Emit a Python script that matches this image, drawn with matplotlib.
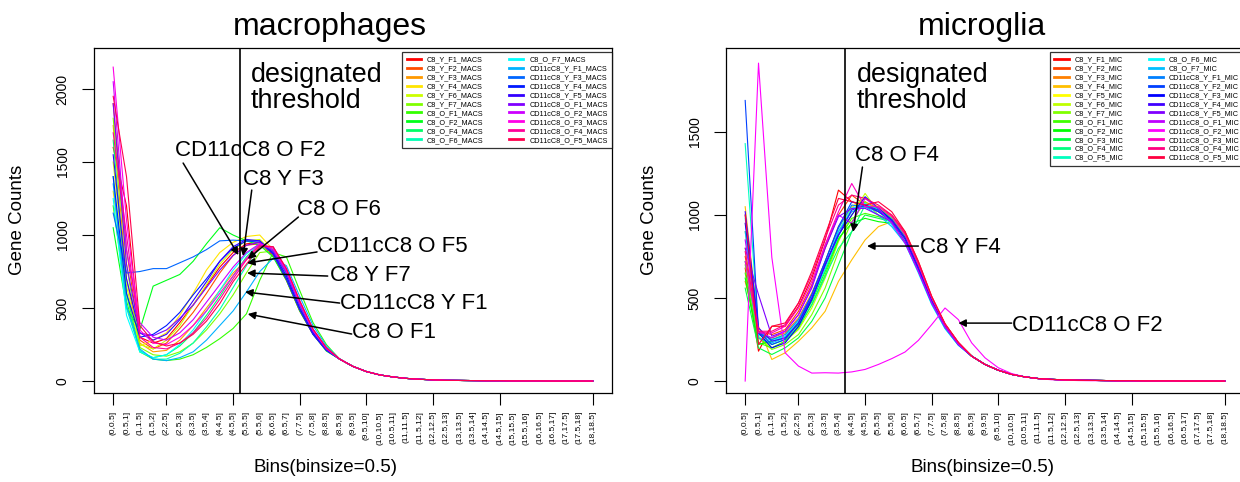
import colorsys
import matplotlib
matplotlib.use("Agg")
import matplotlib.pyplot as plt

plt.rcParams['font.family'] = ['Liberation Sans', 'DejaVu Sans']

# bins on the x axis
bins = ["(0,0.5]", "(0.5,1]", "(1,1.5]", "(1.5,2]", "(2,2.5]", "(2.5,3]", "(3,3.5]",
        "(3.5,4]", "(4,4.5]", "(4.5,5]", "(5,5.5]", "(5.5,6]", "(6,6.5]", "(6.5,7]",
        "(7,7.5]", "(7.5,8]", "(8,8.5]", "(8.5,9]", "(9,9.5]", "(9.5,10]", "(10,10.5]",
        "(10.5,11]", "(11,11.5]", "(11.5,12]", "(12,12.5]", "(12.5,13]", "(13,13.5]",
        "(13.5,14]", "(14,14.5]", "(14.5,15]", "(15,15.5]", "(15.5,16]", "(16,16.5]",
        "(16.5,17]", "(17,17.5]", "(17.5,18]", "(18,18.5]"]
tick_bins = [0, 4, 9, 14, 19, 24, 29, 36]

# ---- macrophages: first 17 bins per sample, shared tail for the rest
mac_c8_y_f1 = [1600, 1200, 300, 260, 290, 400, 520, 650, 780, 880, 940, 950, 860, 690, 480, 320, 210]
mac_c8_y_f2 = [1900, 900, 280, 220, 260, 360, 470, 600, 740, 860, 930, 940, 860, 700, 490, 330, 215]
mac_c8_y_f3 = [1750, 700, 260, 200, 210, 280, 380, 500, 620, 740, 830, 930, 900, 740, 520, 340, 220]
mac_c8_y_f4 = [1300, 600, 240, 280, 330, 450, 600, 760, 880, 950, 990, 1000, 900, 720, 500, 330, 210]
mac_c8_y_f6 = [1500, 650, 250, 220, 280, 380, 520, 660, 800, 900, 960, 970, 880, 710, 500, 330, 215]
mac_c8_y_f7 = [1800, 800, 230, 180, 170, 200, 260, 350, 460, 590, 740, 880, 890, 760, 540, 350, 225]
mac_c8_o_f1 = [1200, 550, 200, 150, 140, 150, 180, 230, 290, 360, 460, 690, 880, 850, 620, 400, 250]
mac_c8_o_f2 = [1050, 500, 350, 650, 690, 730, 820, 940, 1050, 1000, 960, 930, 850, 690, 480, 320, 205]
mac_c8_o_f4 = [1650, 600, 200, 160, 180, 240, 330, 450, 580, 720, 850, 940, 900, 740, 520, 340, 220]
mac_c8_o_f6 = [1400, 500, 210, 150, 150, 190, 260, 370, 490, 640, 790, 920, 920, 760, 540, 350, 225]
mac_c8_o_f7 = [1250, 450, 200, 160, 180, 250, 350, 480, 620, 760, 870, 940, 880, 720, 500, 330, 215]
mac_cd_y_f1 = [1350, 520, 220, 150, 140, 160, 200, 280, 380, 480, 610, 750, 840, 790, 580, 380, 240]
mac_cd_y_f3 = [1150, 740, 750, 770, 770, 810, 850, 900, 960, 965, 960, 950, 870, 700, 490, 320, 210]
mac_cd_y_f4 = [1400, 600, 300, 320, 380, 470, 590, 700, 820, 910, 960, 960, 880, 720, 500, 330, 215]
mac_cd_y_f5 = [1550, 700, 330, 280, 320, 420, 550, 680, 820, 920, 970, 960, 870, 700, 490, 320, 210]
mac_cd_o_f1 = [1900, 800, 330, 310, 350, 430, 520, 640, 760, 860, 930, 950, 890, 740, 520, 340, 220]
mac_cd_o_f2 = [2050, 900, 400, 300, 280, 330, 420, 540, 660, 780, 880, 940, 900, 750, 530, 345, 222]
mac_cd_o_f3 = [2150, 1100, 350, 260, 250, 300, 380, 480, 600, 720, 840, 940, 910, 760, 540, 350, 225]
mac_cd_o_f4 = [1700, 1000, 300, 230, 220, 260, 330, 430, 560, 700, 830, 930, 920, 770, 550, 355, 228]
mac_cd_o_f5 = [1950, 1400, 380, 270, 240, 260, 320, 410, 530, 680, 800, 920, 920, 770, 550, 355, 228]
mac_tail = [150, 100, 65, 42, 28, 18, 12, 8, 5, 4, 3, 2, 2, 1, 1, 1, 0, 0, 0, 0]

mac_labels = ["C8_Y_F1_MACS", "C8_Y_F2_MACS", "C8_Y_F3_MACS", "C8_Y_F4_MACS", "C8_Y_F6_MACS",
              "C8_Y_F7_MACS", "C8_O_F1_MACS", "C8_O_F2_MACS", "C8_O_F4_MACS", "C8_O_F6_MACS",
              "C8_O_F7_MACS", "CD11cC8_Y_F1_MACS", "CD11cC8_Y_F3_MACS", "CD11cC8_Y_F4_MACS",
              "CD11cC8_Y_F5_MACS", "CD11cC8_O_F1_MACS", "CD11cC8_O_F2_MACS", "CD11cC8_O_F3_MACS",
              "CD11cC8_O_F4_MACS", "CD11cC8_O_F5_MACS"]
mac_heads = [mac_c8_y_f1, mac_c8_y_f2, mac_c8_y_f3, mac_c8_y_f4, mac_c8_y_f6, mac_c8_y_f7,
             mac_c8_o_f1, mac_c8_o_f2, mac_c8_o_f4, mac_c8_o_f6, mac_c8_o_f7, mac_cd_y_f1,
             mac_cd_y_f3, mac_cd_y_f4, mac_cd_y_f5, mac_cd_o_f1, mac_cd_o_f2, mac_cd_o_f3,
             mac_cd_o_f4, mac_cd_o_f5]

# ---- microglia
mic_c8_y_f1 = [680, 180, 330, 330, 450, 620, 850, 1150, 1080, 1050, 1030, 980, 880, 700, 500, 340, 230]
mic_c8_y_f2 = [750, 300, 280, 310, 420, 580, 800, 1000, 1120, 1060, 1050, 1000, 900, 720, 510, 345, 232]
mic_c8_y_f3 = [600, 280, 260, 290, 380, 530, 720, 930, 1050, 1080, 1040, 990, 880, 700, 500, 340, 230]
mic_c8_y_f4 = [1050, 330, 130, 170, 240, 320, 420, 600, 730, 850, 930, 960, 880, 700, 500, 340, 228]
mic_c8_y_f5 = [900, 300, 250, 280, 360, 500, 680, 900, 1050, 1100, 1050, 990, 880, 700, 500, 340, 230]
mic_c8_y_f6 = [800, 270, 200, 240, 310, 440, 620, 840, 1000, 1130, 1020, 980, 870, 690, 490, 335, 226]
mic_c8_y_f7 = [700, 260, 190, 220, 280, 400, 560, 780, 960, 1080, 1000, 970, 870, 690, 490, 335, 226]
mic_c8_o_f1 = [650, 230, 200, 240, 320, 460, 640, 850, 980, 1010, 990, 960, 870, 690, 490, 335, 226]
mic_c8_o_f2 = [620, 220, 240, 260, 340, 480, 660, 860, 950, 980, 960, 950, 860, 680, 485, 330, 224]
mic_c8_o_f3 = [560, 200, 160, 200, 260, 360, 500, 700, 900, 1000, 980, 960, 860, 680, 480, 330, 222]
mic_c8_o_f4 = [720, 260, 220, 250, 330, 460, 630, 800, 900, 1060, 1040, 980, 870, 690, 490, 335, 226]
mic_c8_o_f5 = [1430, 300, 250, 270, 350, 490, 670, 870, 1040, 1060, 1020, 960, 850, 670, 470, 320, 218]
mic_c8_o_f6 = [980, 280, 240, 270, 360, 500, 690, 900, 1040, 1070, 1030, 940, 830, 650, 460, 315, 215]
mic_c8_o_f7 = [900, 260, 230, 260, 350, 500, 690, 900, 1020, 1050, 1000, 930, 830, 660, 465, 318, 216]
mic_cd_y_f1 = [1000, 290, 250, 280, 370, 520, 720, 920, 1060, 1050, 1020, 960, 860, 680, 480, 330, 222]
mic_cd_y_f2 = [1690, 300, 220, 250, 350, 520, 720, 930, 1080, 1060, 1030, 970, 860, 680, 480, 330, 222]
mic_cd_y_f3 = [950, 290, 200, 230, 330, 490, 700, 880, 1000, 1110, 1040, 970, 860, 680, 480, 330, 222]
mic_cd_y_f4 = [1020, 320, 240, 260, 350, 500, 700, 880, 1030, 1060, 1020, 970, 860, 680, 480, 330, 222]
mic_cd_y_f5 = [800, 520, 270, 300, 400, 560, 800, 990, 1040, 1040, 1000, 960, 840, 660, 470, 325, 220]
mic_cd_o_f1 = [850, 300, 260, 300, 400, 570, 820, 1000, 950, 1100, 1040, 950, 830, 660, 470, 325, 220]
mic_cd_o_f2 = [0, 1915, 745, 170, 90, 48, 50, 48, 55, 70, 100, 135, 175, 245, 340, 440, 370]
mic_cd_o_f3 = [720, 290, 290, 330, 440, 600, 820, 1020, 1190, 1050, 1050, 990, 880, 700, 500, 340, 230]
mic_cd_o_f4 = [780, 300, 300, 340, 470, 640, 860, 1060, 1120, 1100, 1060, 1000, 890, 710, 505, 343, 232]
mic_cd_o_f5 = [1000, 220, 330, 350, 470, 660, 880, 1100, 1080, 1060, 1080, 1020, 900, 720, 510, 345, 233]
mic_tail = [150, 100, 65, 40, 25, 15, 10, 7, 5, 4, 3, 2, 2, 1, 1, 1, 0, 0, 0, 0]
mic_cd_o_f2_tail = [230, 140, 80, 45, 25, 14, 8, 5, 3, 2, 2, 1, 1, 1, 0, 0, 0, 0, 0, 0]

mic_labels = ["C8_Y_F1_MIC", "C8_Y_F2_MIC", "C8_Y_F3_MIC", "C8_Y_F4_MIC", "C8_Y_F5_MIC",
              "C8_Y_F6_MIC", "C8_Y_F7_MIC", "C8_O_F1_MIC", "C8_O_F2_MIC", "C8_O_F3_MIC",
              "C8_O_F4_MIC", "C8_O_F5_MIC", "C8_O_F6_MIC", "C8_O_F7_MIC", "CD11cC8_Y_F1_MIC",
              "CD11cC8_Y_F2_MIC", "CD11cC8_Y_F3_MIC", "CD11cC8_Y_F4_MIC", "CD11cC8_Y_F5_MIC",
              "CD11cC8_O_F1_MIC", "CD11cC8_O_F2_MIC", "CD11cC8_O_F3_MIC", "CD11cC8_O_F4_MIC",
              "CD11cC8_O_F5_MIC"]
mic_heads = [mic_c8_y_f1, mic_c8_y_f2, mic_c8_y_f3, mic_c8_y_f4, mic_c8_y_f5, mic_c8_y_f6,
             mic_c8_y_f7, mic_c8_o_f1, mic_c8_o_f2, mic_c8_o_f3, mic_c8_o_f4, mic_c8_o_f5,
             mic_c8_o_f6, mic_c8_o_f7, mic_cd_y_f1, mic_cd_y_f2, mic_cd_y_f3, mic_cd_y_f4,
             mic_cd_y_f5, mic_cd_o_f1, mic_cd_o_f2, mic_cd_o_f3, mic_cd_o_f4, mic_cd_o_f5]

mac_threshold = 9.5
mic_threshold = 7.5

# annotations: (label, text pos, arrow tail, arrow tip) in (bin index, count)
mac_notes = [("CD11cC8 O F2", (4.65, 1582), (5.25, 1493), (9.4, 863)),
             ("C8 Y F3", (9.75, 1377), (10.4, 1308), (9.75, 856)),
             ("C8 O F6", (13.8, 1178), (13.9, 1123), (10.1, 836)),
             ("CD11cC8 O F5", (15.3, 918), (15.3, 884), (10.05, 808)),
             ("C8 Y F7", (16.3, 726), (16.1, 719), (10.05, 740)),
             ("CD11cC8 Y F1", (17.0, 534), (17.0, 534), (9.9, 610)),
             ("C8 O F1", (17.9, 329), (17.9, 322), (10.1, 459))]
mic_notes = [("C8 O F4", (8.25, 1361), (8.8, 1289), (8.1, 898)),
             ("C8 Y F4", (13.1, 807), (13.0, 813), (9.15, 813)),
             ("CD11cC8 O F2", (20.0, 337), (20.0, 349), (16.0, 349))]


def rainbow(n):
    return [colorsys.hsv_to_rgb(i / n, 1, 1) for i in range(n)]


def panel(rect, title, heads, tails, labels, ylim, yticks, thr, notes, title_x, xlab_x):
    ax = fig.add_axes(rect)
    x = list(range(len(bins)))
    cols = rainbow(len(heads))
    for h, t, lab, c in zip(heads, tails, labels, cols):
        ax.plot(x, h + t, color=c, lw=0.8, label=lab)
    ax.axvline(thr, color='black', lw=1.2)
    ax.set_xlim(-1.44, 37.44)
    ax.set_ylim(*ylim)
    ax.xaxis.remove_overlapping_locs = False
    ax.set_xticks(x)
    ax.set_xticklabels(bins, rotation=90, fontsize=6.0)
    ax.set_xticks(tick_bins, minor=True)
    ax.tick_params(axis='x', which='major', length=0, pad=13)
    ax.tick_params(axis='x', which='minor', length=8.5, width=0.8)
    ax.set_yticks(yticks)
    ax.set_yticklabels([str(v) for v in yticks], rotation=90, va='center', fontsize=10)
    ax.tick_params(axis='y', length=8.5, width=0.8, pad=9)
    for s in ax.spines.values():
        s.set_linewidth(0.9)
    ax.text(thr + 0.85, ylim[1] - 0.115 * (ylim[1] - ylim[0]), "designated\nthreshold",
            fontsize=19.4, va='center', ha='left', linespacing=1.0)
    for lab, tp, tail, tip in notes:
        ax.text(tp[0], tp[1], lab, fontsize=16, ha='left', va='center')
        ax.annotate('', xy=tip, xytext=tail,
                    arrowprops=dict(arrowstyle='-|>', color='black', lw=1.1, mutation_scale=11,
                                    shrinkA=0, shrinkB=0))
    leg = ax.legend(loc='upper right', bbox_to_anchor=(1.0, 1 - 4 / 345), borderaxespad=0,
                    ncol=2, fontsize=5.2, frameon=True, fancybox=False, edgecolor='black',
                    handlelength=2.0, handletextpad=0.8, columnspacing=3.5, labelspacing=0.26,
                    borderpad=0.6)
    leg.get_frame().set_linewidth(0.9)
    for line in leg.get_lines():
        line.set_linewidth(2.0)
    ax.text(title_x, 1 + 13 / 345, title, transform=ax.transAxes, fontsize=23,
            ha='center', va='baseline')
    ax.text(xlab_x, -74 / 345, "Bins(binsize=0.5)", transform=ax.transAxes, fontsize=13.5,
            ha='center', va='center')
    return ax


fig = plt.figure(figsize=(12.4, 4.82), dpi=100)

ax1 = panel([94 / 1240, 89 / 482, 518 / 1240, 345 / 482], "macrophages", mac_heads,
            [mac_tail] * len(mac_heads), mac_labels, (-82, 2281), [0, 500, 1000, 1500, 2000],
            mac_threshold, mac_notes, 0.456, 0.446)
fig.text(18 / 1240, 1 - 220 / 482, "Gene Counts", rotation=90, fontsize=13.5,
         ha='center', va='center')

mic_tails = [mic_tail] * len(mic_heads)
mic_tails[20] = mic_cd_o_f2_tail
ax2 = panel([726 / 1240, 89 / 482, 518 / 1240, 345 / 482], "microglia", mic_heads,
            mic_tails, mic_labels, (-72, 2006), [0, 500, 1000, 1500],
            mic_threshold, mic_notes, 0.495, 0.495)
fig.text(650 / 1240, 1 - 220 / 482, "Gene Counts", rotation=90, fontsize=13.5,
         ha='center', va='center')

fig.savefig("out.png", dpi=100)
